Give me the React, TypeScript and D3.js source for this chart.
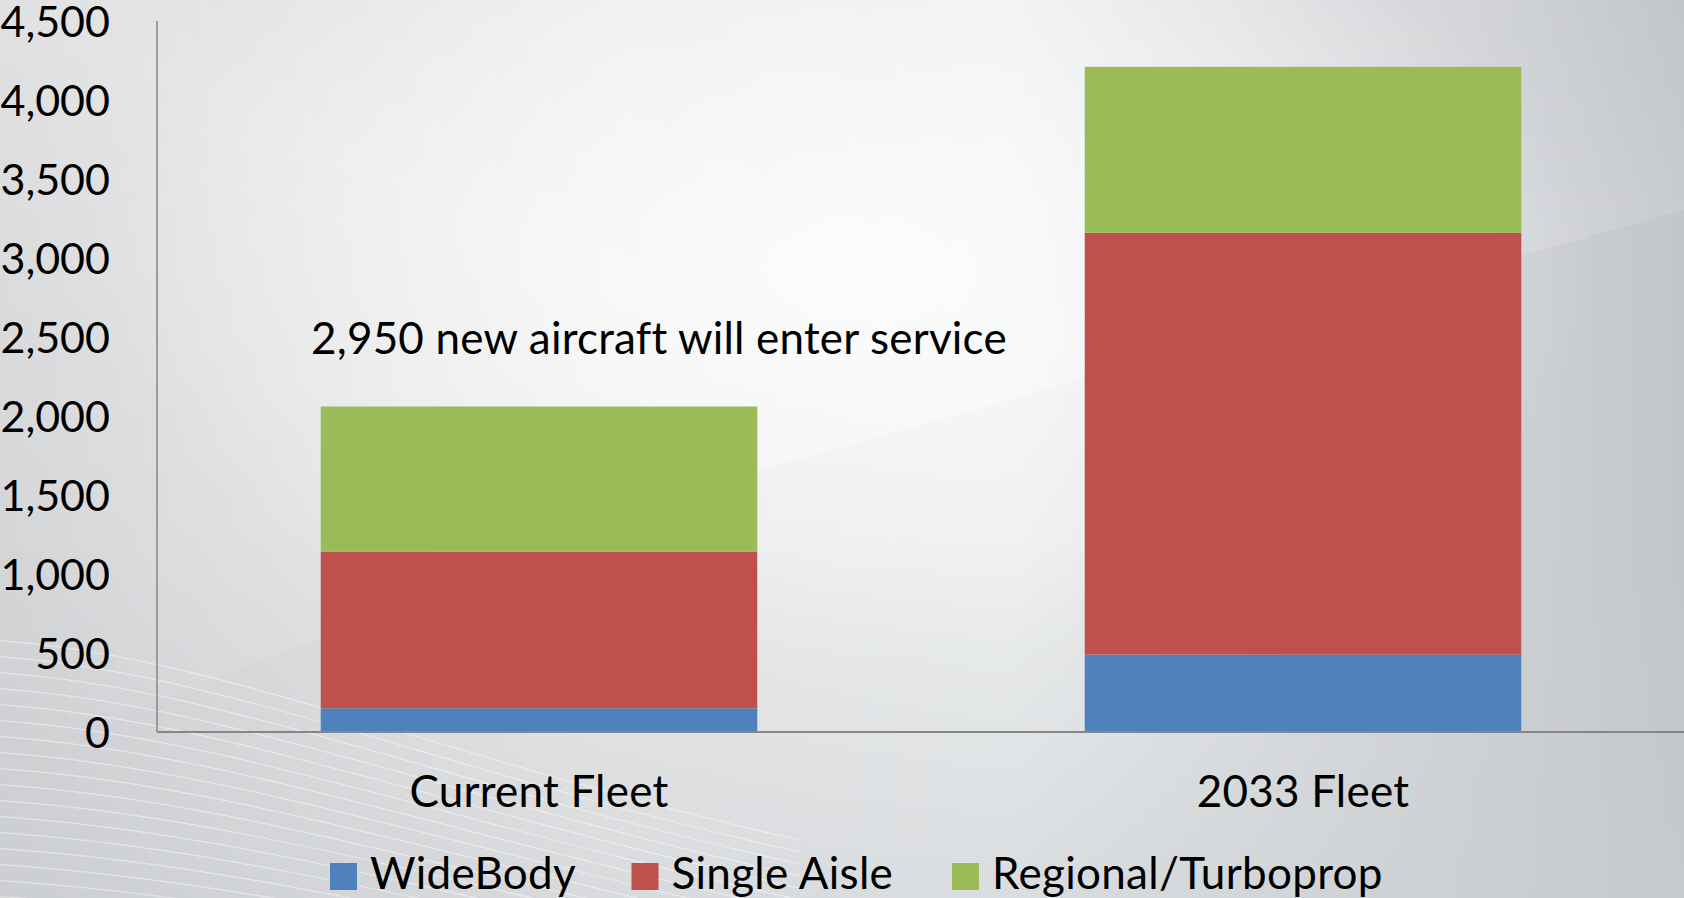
import React from "react";
import * as d3 from "d3";

const categories = ["Current Fleet", "2033 Fleet"];
const wideBody = [150, 490];
const singleAisle = [990, 2670];
const regional = [920, 1050];
const seriesNames = ["WideBody", "Single Aisle", "Regional/Turboprop"];
const seriesColors = ["#4F81BD", "#C0504D", "#9BBB59"];
const yTicks = [0, 500, 1000, 1500, 2000, 2500, 3000, 3500, 4000, 4500];
const annotation = "2,950 new aircraft will enter service";

const W = 1684;
const H = 898;
const FONT = "Lato, 'Open Sans', sans-serif";

export default function App() {
  const x = d3
    .scaleBand<string>()
    .domain(categories)
    .range([157, 1685])
    .paddingInner(0.4286)
    .paddingOuter(0.2143);
  const y = d3.scaleLinear().domain([0, 4500]).range([732, 21]);

  const rows = categories.map((c, i) => ({
    cat: c,
    WideBody: wideBody[i],
    "Single Aisle": singleAisle[i],
    "Regional/Turboprop": regional[i],
  }));
  const stacked = d3.stack<any>().keys(seriesNames)(rows);
  const fmt = d3.format(",");

  const swoosh: string[] = [];
  for (let i = 0; i < 18; i++) {
    const y0 = 640 + i * 16;
    const y1 = 770 + i * 12;
    swoosh.push(
      `M -10 ${y0} C 220 ${y0 + 14}, 440 ${y1 - 10}, 800 ${y1 + 70}`
    );
  }

  return (
    <svg
      width={W}
      height={H}
      style={{ position: "absolute", left: 0, top: 0, display: "block" }}
    >
      <defs>
        <linearGradient id="bgH" x1="0" y1="0" x2="1" y2="0">
          <stop offset="0" stopColor="#d0d1d3" />
          <stop offset="0.35" stopColor="#e8e8e9" />
          <stop offset="0.6" stopColor="#eceeef" />
          <stop offset="0.85" stopColor="#d3d5d8" />
          <stop offset="1" stopColor="#c3c6c9" />
        </linearGradient>
        <radialGradient id="glow" cx="0.5" cy="0.3" r="0.45">
          <stop offset="0" stopColor="#ffffff" stopOpacity="0.75" />
          <stop offset="1" stopColor="#ffffff" stopOpacity="0" />
        </radialGradient>
        <linearGradient id="bottomShade" x1="0" y1="0" x2="0" y2="1">
          <stop offset="0.6" stopColor="#c8ccd0" stopOpacity="0" />
          <stop offset="1" stopColor="#c8ccd0" stopOpacity="0.5" />
        </linearGradient>
        <linearGradient id="diag" x1="0" y1="1" x2="1" y2="0">
          <stop offset="0" stopColor="#ffffff" stopOpacity="0" />
          <stop offset="0.5" stopColor="#ffffff" stopOpacity="0.35" />
          <stop offset="1" stopColor="#ffffff" stopOpacity="0" />
        </linearGradient>
      </defs>
      <rect x={0} y={0} width={W} height={H} fill="url(#bgH)" />
      <rect x={0} y={0} width={W} height={H} fill="url(#glow)" />
      <path
        d={`M 0 760 L 760 470 L 1684 210 L 1684 0 L 0 0 Z`}
        fill="url(#diag)"
      />
      <rect x={0} y={0} width={W} height={H} fill="url(#bottomShade)" />
      <g fill="none" stroke="#ffffff" strokeOpacity={0.45} strokeWidth={1.2}>
        {swoosh.map((d, i) => (
          <path key={i} d={d} />
        ))}
      </g>

      {/* bars */}
      {stacked.map((s, si) => (
        <g key={s.key} fill={seriesColors[si]}>
          {s.map((d: any, i: number) => (
            <rect
              key={i}
              x={x(categories[i])}
              width={x.bandwidth()}
              y={y(d[1])}
              height={y(d[0]) - y(d[1])}
            />
          ))}
        </g>
      ))}

      {/* axes */}
      <line x1={157} x2={157} y1={y(4500)} y2={y(0)} stroke="#868686" strokeWidth={1.5} />
      <line x1={157} x2={W} y1={y(0)} y2={y(0)} stroke="#868686" strokeWidth={2} />

      <g fontFamily={FONT} fontSize={43} fill="#000">
        {yTicks.map((t) => (
          <text key={t} x={110} y={y(t) + 16}
            textAnchor="end">
            {fmt(t)}
          </text>
        ))}
      </g>
      <g fontFamily={FONT} fontSize={44} fill="#000" letterSpacing={0.2}>
        {categories.map((c) => (
          <text
            key={c}
            x={(x(c) as number) + x.bandwidth() / 2}
            y={807}
            textAnchor="middle"
          >
            {c}
          </text>
        ))}
        <text x={311} y={354}>
          {annotation}
        </text>
      </g>

      {/* legend */}
      <g fontFamily={FONT} fontSize={44} letterSpacing={0.3}>
        {seriesNames.map((n, i) => {
          const lx = [330, 631.5, 952][i];
          return (
            <g key={n}>
              <rect x={lx} y={863} width={27} height={27} fill={seriesColors[i]} />
              <text x={lx + 40} y={889}>
                {n}
              </text>
            </g>
          );
        })}
      </g>
    </svg>
  );
}
